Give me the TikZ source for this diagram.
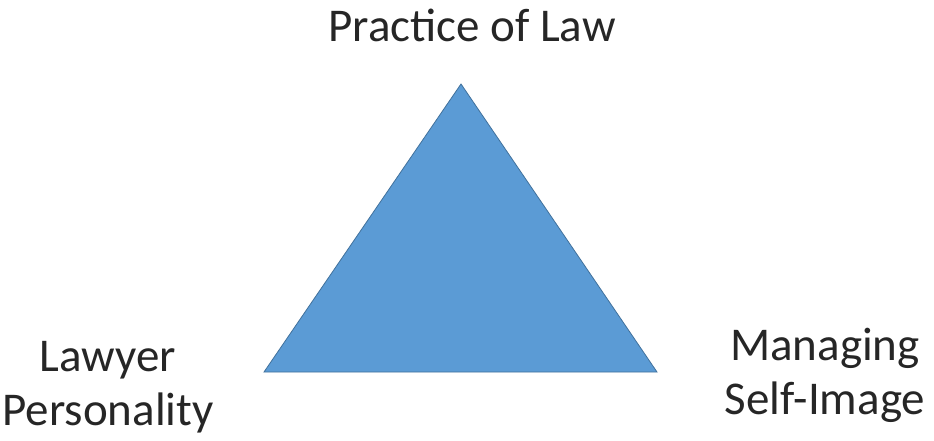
\documentclass[tikz,border=0pt]{standalone}
\usepackage{fontspec}
\setmainfont{Carlito}
\usetikzlibrary{positioning}
\definecolor{trifill}{HTML}{5B9BD5}
\definecolor{triedge}{HTML}{41719C}

\begin{document}
\begin{tikzpicture}[
      x=1pt, y=1pt,
      font=\fontsize{47}{54}\selectfont,
      corner/.style={align=center, inner sep=0pt, text=black!85},
      tri/.style={fill=trifill, draw=triedge, line width=0.8pt, line join=miter}
    ]
    \useasboundingbox (0,0) rectangle (934,440);
    \coordinate (top)   at (461,356);
    \coordinate (left)  at (264,68);
    \coordinate (right) at (657,68);
    \draw[tri] (left) -- (top) -- (right) -- cycle;

    \node[corner, anchor=base] (law) at (472,398) {Practice of Law};
    \node[corner, anchor=north] (pers) at (108,99) {Lawyer\\Personality};
    \node[corner, anchor=north] (self) at (825,112) {Managing\\Self-Image};
  \end{tikzpicture}
\end{document}
